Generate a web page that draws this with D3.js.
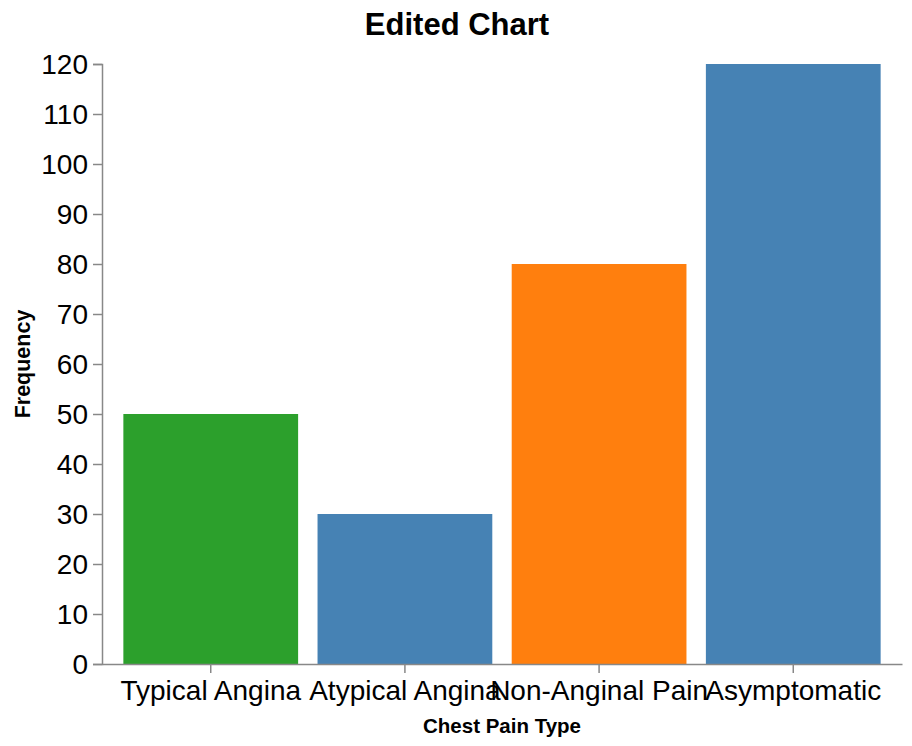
<!DOCTYPE html>
<html>
<head>
<meta charset="utf-8">
<script src="https://cdn.jsdelivr.net/npm/d3@7"></script>
<style>
  body { margin: 0; background: #fff; }
  text { font-family: "Liberation Sans", Arial, sans-serif; }
</style>
</head>
<body>
<div id="chart"></div>
<script>
const categories = ["Typical Angina", "Atypical Angina", "Non-Anginal Pain", "Asymptomatic"];
const frequency = [50, 30, 80, 120];
const barColors = ["#2ca02c", "#4682b4", "#ff7f0e", "#4682b4"];
const yTicks = [0, 10, 20, 30, 40, 50, 60, 70, 80, 90, 100, 110, 120];

const W = 912, H = 746;
const margin = { top: 64, right: 10, bottom: 82, left: 102 };
const width = 902 - margin.left,
    height = H - margin.top - margin.bottom;

const svg = d3.select("#chart").append("svg")
    .attr("width", W)
    .attr("height", H);

const g = svg.append("g")
    .attr("transform", "translate(" + margin.left + "," + margin.top + ")");

const x = d3.scaleBand()
    .domain(categories)
    .range([0, width])
    .paddingInner(0.1)
    .paddingOuter(0.11);

const y = d3.scaleLinear()
    .domain([0, 120])
    .range([height, 0]);

// bars
g.selectAll("rect")
    .data(categories)
    .join("rect")
    .attr("x", d => x(d))
    .attr("y", (d, i) => y(frequency[i]))
    .attr("width", x.bandwidth())
    .attr("height", (d, i) => y(0) - y(frequency[i]))
    .attr("fill", (d, i) => barColors[i]);

// y axis
const yAxis = g.append("g")
    .call(d3.axisLeft(y).tickValues(yTicks).tickSize(9).tickPadding(5));
yAxis.select(".domain").attr("stroke", "#888").attr("stroke-width", 1.5);
yAxis.selectAll(".tick line").attr("stroke", "#888").attr("stroke-width", 1.5);
yAxis.selectAll(".tick text")
    .attr("font-size", 28)
    .attr("fill", "#000")
    .attr("dy", "0.35em");

// x axis
const xAxis = g.append("g")
    .attr("transform", "translate(0," + height + ")")
    .call(d3.axisBottom(x).tickSize(9).tickPadding(4).tickSizeOuter(0));
xAxis.select(".domain").attr("stroke", "#888").attr("stroke-width", 1.5);
xAxis.selectAll(".tick line").attr("stroke", "#888").attr("stroke-width", 1.5);
xAxis.selectAll(".tick text")
    .attr("font-size", 28)
    .attr("fill", "#000")
    .attr("dy", "0.82em");

// axis titles
svg.append("text")
    .attr("x", margin.left + width / 2)
    .attr("y", 733)
    .attr("text-anchor", "middle")
    .attr("font-weight", "bold")
    .attr("font-size", 20.5)
    .text("Chest Pain Type");

svg.append("text")
    .attr("transform", "translate(30," + (margin.top + height / 2) + ") rotate(-90)")
    .attr("text-anchor", "middle")
    .attr("font-weight", "bold")
    .attr("font-size", 21.5)
    .text("Frequency");

// title
svg.append("text")
    .attr("x", 457)
    .attr("y", 35)
    .attr("text-anchor", "middle")
    .attr("font-weight", "bold")
    .attr("font-size", 31)
    .text("Edited Chart");
</script>
</body>
</html>
